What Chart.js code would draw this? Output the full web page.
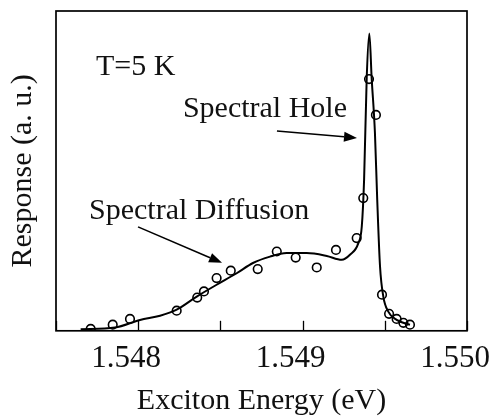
<!DOCTYPE html>
<html><head><meta charset="utf-8">
<script src="https://cdn.jsdelivr.net/npm/chart.js@4.4.1/dist/chart.umd.min.js"></script>
<style>html,body{margin:0;padding:0;background:#fff;}canvas{display:block;}</style>
</head><body>
<canvas id="c" width="491" height="416"></canvas>
<script>
// ---- data ----
const curveEnergy = [1.547650,1.547859,1.548011,1.548133,1.548234,1.548356,1.548477,1.548599,1.548698,1.548802,1.548903,1.549025,1.549147,1.549238,1.549288,1.549339,1.549360,1.549374,1.549390,1.549406,1.549420,1.549440,1.549454,1.549471,1.549491,1.549521,1.549572,1.549653];
const curveResponse = [0.5,1.0,3.4,4.7,6.6,10.7,14.4,18.0,21.2,23.2,24.3,24.3,23.4,22.2,23.8,27.4,32.6,47.2,79.1,93.0,79.1,61.9,40.9,20.1,10.7,6.0,3.4,1.9];
const pointEnergy = [1.547711,1.547845,1.547950,1.548234,1.548359,1.548400,1.548477,1.548563,1.548727,1.548843,1.548958,1.549086,1.549203,1.549329,1.549369,1.549404,1.549446,1.549483,1.549526,1.549572,1.549613,1.549653];
const pointResponse = [0.6,1.9,3.7,6.3,10.4,12.3,16.5,18.8,19.3,24.8,22.9,19.8,25.3,29.0,41.5,78.7,67.5,11.3,5.3,3.7,2.5,1.9];
const tickValues = [1.5475,1.548,1.5485,1.549,1.5495,1.550];
const tickLabels = ['','1.548','','1.549','','1.550'];
const xTitle = 'Exciton Energy (eV)';
const yTitle = 'Response (a. u.)';
const annoText = ['T=5 K','Spectral Hole','Spectral Diffusion'];
const annoEnergy = [1.547743,1.548272,1.547701];
const annoResponse = [80.0,66.9,35.0];
const arrowFrom = [[1.548844,62.5],[1.547999,32.5]];
const arrowTo = [[1.549331,60.3],[1.548510,21.25]];

const FONT = '"Liberation Serif", "Times New Roman", serif';

const framePlugin = {
  id: 'frame',
  afterDatasetsDraw(chart) {
    const {ctx, chartArea: a, scales: {x, y}} = chart;
    ctx.save();
    ctx.strokeStyle = '#000';
    ctx.lineWidth = 1.7;
    ctx.strokeRect(a.left, a.top, a.right - a.left, a.bottom - a.top);
    ctx.lineWidth = 1.3;
    x.ticks.forEach(t => {
      const px = Math.round(x.getPixelForValue(t.value)) + 0.5;
      ctx.beginPath(); ctx.moveTo(px, a.bottom); ctx.lineTo(px, a.bottom - 10); ctx.stroke();
    });
    ctx.fillStyle = '#111';
    ctx.font = '30px ' + FONT;
    ctx.textBaseline = 'alphabetic';
    ctx.textAlign = 'left';
    annoText.forEach((t, i) => {
      ctx.fillText(t, x.getPixelForValue(annoEnergy[i]), y.getPixelForValue(annoResponse[i]));
    });
    ctx.lineWidth = 1.6;
    arrowFrom.forEach((f, i) => {
      const x0 = x.getPixelForValue(f[0]), y0 = y.getPixelForValue(f[1]);
      const x1 = x.getPixelForValue(arrowTo[i][0]), y1 = y.getPixelForValue(arrowTo[i][1]);
      const ang = Math.atan2(y1 - y0, x1 - x0);
      const L = 13, W = 5;
      const bx = x1 - L * Math.cos(ang), by = y1 - L * Math.sin(ang);
      ctx.beginPath(); ctx.moveTo(x0, y0); ctx.lineTo(bx, by); ctx.stroke();
      ctx.beginPath();
      ctx.moveTo(x1, y1);
      ctx.lineTo(bx + W * Math.sin(ang), by - W * Math.cos(ang));
      ctx.lineTo(bx - W * Math.sin(ang), by + W * Math.cos(ang));
      ctx.closePath(); ctx.fillStyle = '#000'; ctx.fill();
    });
    ctx.restore();
  }
};

new Chart(document.getElementById('c'), {
  type: 'scatter',
  data: {
    datasets: [
      {
        label: 'fit',
        data: curveEnergy.map((e, i) => ({x: e, y: curveResponse[i]})),
        showLine: true,
        borderColor: '#000',
        borderWidth: 2,
        pointRadius: 0,
        cubicInterpolationMode: 'monotone',
        fill: false
      },
      {
        label: 'data',
        data: pointEnergy.map((e, i) => ({x: e, y: pointResponse[i]})),
        showLine: false,
        pointStyle: 'circle',
        pointRadius: 4.3,
        pointBorderWidth: 1.6,
        pointBorderColor: '#000',
        pointBackgroundColor: 'rgba(0,0,0,0)'
      }
    ]
  },
  options: {
    responsive: false,
    animation: false,
    devicePixelRatio: 1,
    layout: {padding: {left: 0, right: 24, top: 11, bottom: 0}},
    plugins: {legend: {display: false}, tooltip: {enabled: false}},
    scales: {
      x: {
        type: 'linear',
        min: 1.5475,
        max: 1.550,
        grid: {display: false, drawTicks: false},
        border: {display: false},
        afterBuildTicks: s => { s.ticks = tickValues.map(v => ({value: v})); },
        afterFit: s => { s.paddingLeft = 0; s.paddingRight = 0; },
        ticks: {
          autoSkip: false,
          maxRotation: 0,
          padding: 9,
          labelOffset: -12,
          color: '#111',
          font: {family: FONT, size: 31},
          callback: (v, i) => tickLabels[i]
        },
        title: {display: true, text: xTitle, color: '#111', font: {family: FONT, size: 30, lineHeight: 1.0}, padding: {top: 0, bottom: 0}}
      },
      y: {
        type: 'linear',
        min: 0,
        max: 100,
        grid: {display: false, drawTicks: false},
        border: {display: false},
        ticks: {display: false},
        title: {display: true, text: yTitle, color: '#111', font: {family: FONT, size: 30}, padding: {top: 5, bottom: 15}}
      }
    }
  },
  plugins: [framePlugin]
});
</script>
</body></html>
